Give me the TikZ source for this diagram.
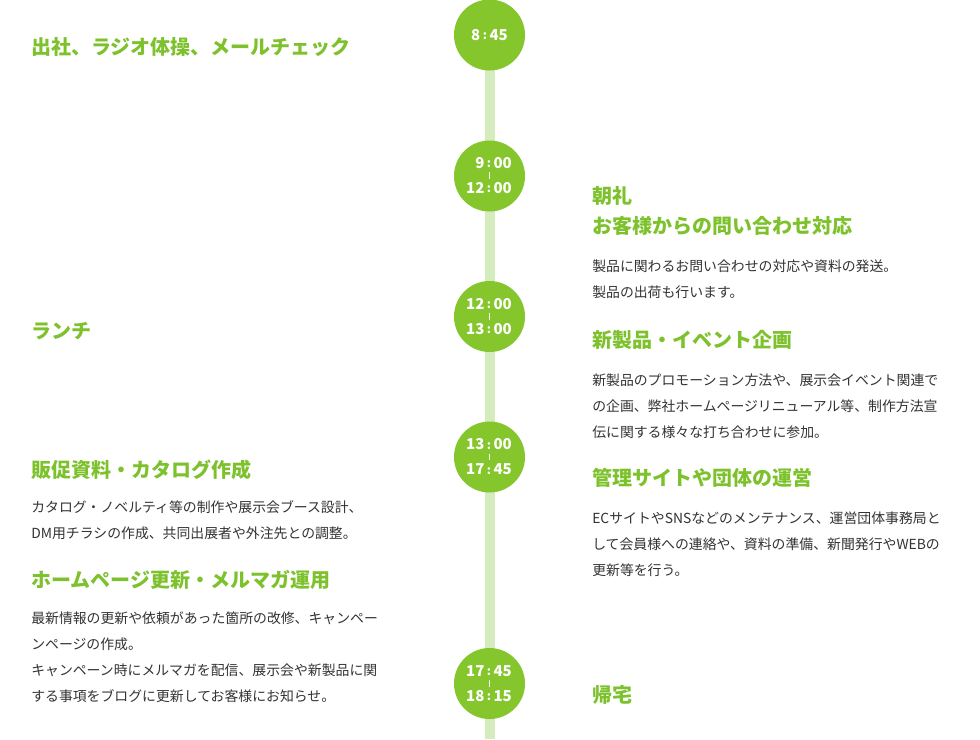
\documentclass[tikz,border=0pt]{standalone}
\usepackage{fontspec}
\setmainfont{Noto Sans CJK JP}
\definecolor{circgreen}{HTML}{84C62B}
\definecolor{headgreen}{HTML}{7DC22C}
\definecolor{barcol}{HTML}{D5ECBF}
\definecolor{bodygray}{HTML}{333333}
\newcommand{\tcolon}{{\fontsize{9}{9}\selectfont\raisebox{0.6pt}{:}}}
\begin{document}
\begin{tikzpicture}[x=0.75pt,y=-0.75pt,
  head/.style={anchor=west, inner sep=0pt, text=headgreen, font=\fontsize{15}{22.5}\selectfont\bfseries, align=left},
  body/.style={anchor=west, inner sep=0pt, text=bodygray, font=\fontsize{10.4}{19.5}\selectfont, align=left},
  circ/.style={circle, fill=circgreen, minimum size=53.25pt, inner sep=0pt},
  tm/.style={text=white, font=\fontsize{11.25}{12}\selectfont\bfseries, inner sep=0pt},
  bar/.style={draw=barcol, line width=7.5pt},
  tick/.style={draw=white, line width=0.75pt, shorten >=2.6pt, shorten <=2.6pt}]
\useasboundingbox (0,0) rectangle (980,739);
\fill[white] (0,0) rectangle (980,739);
\coordinate (top) at (490,35);
\coordinate (bottom) at (490,739);
\draw[bar] (top) -- (bottom);
% circles
\node[circ] (c1) at (489.5,35) {};
\node[circ] (c2) at (489.5,176) {};
\node[circ] (c3) at (489.5,316.5) {};
\node[circ] (c4) at (489.5,457) {};
\node[circ] (c5) at (489.5,683.5) {};
% times
\node[tm] (t1) at (489.5,35) {8\,\tcolon\,45};
\node[tm] (t2a) at (489,163) {\llap{9\,}\tcolon\rlap{\,00}};
\node[tm] (t2b) at (489,188) {\llap{12\,}\tcolon\rlap{\,00}};
\node[tm] (t3a) at (489,304) {\llap{12\,}\tcolon\rlap{\,00}};
\node[tm] (t3b) at (489,329) {\llap{13\,}\tcolon\rlap{\,00}};
\node[tm] (t4a) at (489,444.5) {\llap{13\,}\tcolon\rlap{\,00}};
\node[tm] (t4b) at (489,469.5) {\llap{17\,}\tcolon\rlap{\,45}};
\node[tm] (t5a) at (489,671) {\llap{17\,}\tcolon\rlap{\,45}};
\node[tm] (t5b) at (489,696) {\llap{18\,}\tcolon\rlap{\,15}};
\draw[tick] (t2a.south) -- (t2b.north);
\draw[tick] (t3a.south) -- (t3b.north);
\draw[tick] (t4a.south) -- (t4b.north);
\draw[tick] (t5a.south) -- (t5b.north);
% left column
\node[head] (h1) at (31,47) {出社、ラジオ体操、メールチェック};
\node[head] (h3) at (31,331) {ランチ};
\node[head] (h4) at (31,470) {販促資料・カタログ作成};
\node[body] (b4) at (31,520) {カタログ・ノベルティ等の制作や展示会ブース設計、\\DM用チラシの作成、共同出展者や外注先との調整。};
\node[head] (h5) at (31,580) {ホームページ更新・メルマガ運用};
\node[body] (b5) at (31,657) {最新情報の更新や依頼があった箇所の改修、キャンペー\\ンページの作成。\\キャンペーン時にメルマガを配信、展示会や新製品に関\\する事項をブログに更新してお客様にお知らせ。};
% right column
\node[head] (h2) at (592,211) {朝礼\\お客様からの問い合わせ対応};
\node[body] (b2) at (592,279.5) {製品に関わるお問い合わせの対応や資料の発送。\\製品の出荷も行います。};
\node[head] (h6) at (592,340) {新製品・イベント企画};
\node[body] (b6) at (592,406) {新製品のプロモーション方法や、展示会イベント関連で\\の企画、弊社ホームページリニューアル等、制作方法宣\\伝に関する様々な打ち合わせに参加。};
\node[head] (h7) at (592,478) {管理サイトや団体の運営};
\node[body] (b7) at (592,544.5) {ECサイトやSNSなどのメンテナンス、運営団体事務局と\\して会員様への連絡や、資料の準備、新聞発行やWEBの\\更新等を行う。};
\node[head] (h8) at (592,695) {帰宅};
\end{tikzpicture}
\end{document}
